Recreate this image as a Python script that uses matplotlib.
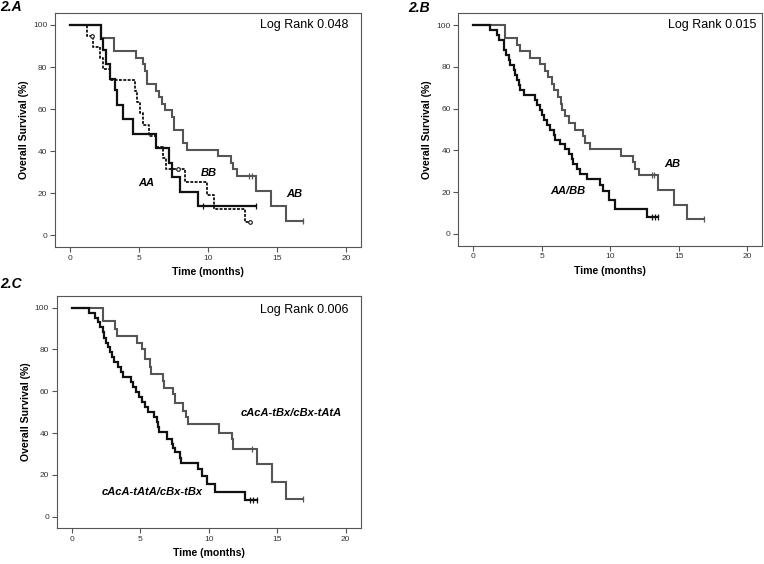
import matplotlib
matplotlib.use('Agg')
import matplotlib.pyplot as plt
import numpy as np

plt.rcParams['font.family'] = ['Liberation Sans', 'DejaVu Sans']

# ---------------- Panel 2.A ----------------
A_AB_t = [0, 2.25, 3.2, 4.8, 5.3, 5.45, 5.6, 6.25, 6.45, 6.66, 6.9, 7.4, 7.5, 7.55, 8.15, 8.5, 10.7, 11.7, 11.8, 12.1, 13.5, 14.6, 15.65]
A_AB_s = [100, 93.8, 87.5, 84.4, 81.3, 78.1, 71.9, 68.8, 65.6, 62.5, 59.4, 56.3, 53.1, 50.0, 43.8, 40.6, 37.5, 34.4, 31.3, 28.1, 21.1, 14.1, 7.0]
A_AB_end = 16.9
A_AB_cens = [13.0, 13.2, 16.9]

A_AA_t = [0, 2.25, 2.35, 2.6, 2.86, 3.22, 3.39, 3.83, 4.55, 6.25, 7.2, 7.4, 7.95, 9.3]
A_AA_s = [100, 93.1, 88.0, 81.6, 74.5, 69.0, 61.8, 55.5, 48.3, 41.4, 34.5, 27.6, 20.7, 13.8]
A_AA_end = 13.5
A_AA_cens = [9.65, 13.5]

A_BB_t = [0, 1.2, 1.65, 2.13, 2.37, 2.86, 4.68, 4.85, 5.1, 5.3, 5.75, 6.25, 6.74, 6.98, 8.3, 9.9, 10.4, 12.7]
A_BB_s = [100, 94.7, 89.5, 84.2, 78.9, 73.7, 68.4, 63.2, 57.9, 52.6, 47.4, 42.1, 36.8, 31.6, 25.3, 19.0, 12.6, 6.3]
A_BB_end = 13.05
A_BB_cens = [1.6, 7.83, 13.05]

# ---------------- Panel 2.B ----------------
B_AB_t = [0, 2.32, 3.17, 3.41, 4.15, 4.83, 5.25, 5.45, 5.73, 5.85, 6.2, 6.4, 6.5, 6.7, 7.0, 7.4, 8.0, 8.15, 8.52, 10.8, 11.65, 11.8, 12.1, 13.5, 14.65, 15.58]
B_AB_s = [100, 93.8, 90.6, 87.5, 84.4, 81.3, 78.1, 75.0, 71.9, 68.8, 65.6, 62.5, 59.4, 56.3, 53.1, 50.0, 46.9, 43.8, 40.6, 37.5, 34.4, 31.3, 28.1, 21.1, 14.1, 7.0]
B_AB_end = 16.85
B_AB_cens = [13.05, 13.15, 16.85]

B_AABB_t = [0, 1.22, 1.7, 1.85, 2.2, 2.25, 2.4, 2.56, 2.68, 2.93, 3.05, 3.17, 3.29, 3.41, 3.66, 4.51, 4.63, 4.83, 5.0, 5.12, 5.37, 5.61, 5.85, 5.98, 6.33, 6.69, 6.94, 7.2, 7.3, 7.55, 7.79, 8.28, 9.25, 9.49, 9.86, 10.34, 12.66]
B_AABB_s = [100, 97.6, 95.2, 92.9, 90.5, 88.1, 85.7, 83.3, 81.0, 78.6, 76.2, 73.8, 71.4, 69.0, 66.7, 64.3, 61.9, 59.5, 57.1, 54.8, 52.4, 50.0, 47.6, 45.2, 42.9, 40.5, 38.1, 35.7, 33.3, 31.0, 28.6, 26.4, 23.6, 20.4, 16.4, 12.0, 8.1]
B_AABB_end = 13.5
B_AABB_cens = [13.0, 13.25, 13.5]

# ---------------- Panel 2.C ----------------
C_up_t = [0, 2.25, 3.14, 3.31, 4.76, 5.14, 5.36, 5.68, 5.8, 6.64, 6.76, 7.37, 7.54, 8.09, 8.33, 8.5, 10.78, 11.68, 11.8, 13.5, 14.6, 15.64]
C_up_s = [100, 93.6, 90.0, 86.4, 83.3, 80.0, 75.5, 71.5, 68.0, 65.0, 61.5, 58.5, 54.5, 50.5, 47.5, 44.2, 39.9, 37.0, 32.5, 25.0, 16.7, 8.3]
C_up_end = 16.86
C_up_cens = [13.14, 16.86]

C_low_t = [0, 1.28, 1.7, 1.9, 2.05, 2.25, 2.35, 2.5, 2.65, 2.8, 2.95, 3.1, 3.35, 3.6, 3.75, 4.35, 4.5, 4.7, 4.9, 5.1, 5.35, 5.6, 6.0, 6.2, 6.3, 6.4, 6.93, 7.3, 7.42, 7.55, 7.9, 8.0, 9.24, 9.48, 9.85, 10.46, 12.65]
C_low_s = [100, 97.6, 95.2, 92.9, 90.5, 88.1, 85.7, 83.3, 81.0, 78.6, 76.2, 73.8, 71.4, 69.0, 66.7, 64.3, 61.9, 59.5, 57.1, 54.8, 52.4, 50.0, 47.6, 45.2, 42.9, 40.5, 37.0, 34.8, 33.0, 30.8, 28.2, 25.8, 22.6, 19.4, 15.5, 11.8, 7.8]
C_low_end = 13.5
C_low_cens = [13.0, 13.25, 13.5]

x_ticks = [0, 5, 10, 15, 20]
y_ticks = [0, 20, 40, 60, 80, 100]

GRAY = '#555555'
BLACK = '#111111'


def surv_at(t, s, x):
    idx = np.searchsorted(np.asarray(t), x, side='right') - 1
    return np.asarray(s)[idx]


def km(ax, t, s, end, cens, color, lw, ls='-', dashed=False):
    tt = list(t) + [end]
    ss = list(s) + [s[-1]]
    ax.step(tt, ss, where='post', color=color, lw=lw, ls=ls, solid_joinstyle='miter')
    cy = [surv_at(t, s, c) for c in cens]
    if dashed:
        ax.plot(cens, cy, ls='none', marker='o', ms=2.6, mfc='white', mec=color, mew=0.8)
    else:
        ax.plot(cens, cy, ls='none', marker='|', ms=4, mec=color, mew=0.9)


def style(ax):
    ax.set_xlim(-1.1, 21.1)
    ax.set_ylim(-5.6, 105.7)
    ax.set_xticks(x_ticks)
    ax.set_yticks(y_ticks)
    for sp in ax.spines.values():
        sp.set_color('#555555')
        sp.set_linewidth(0.8)
    ax.tick_params(direction='out', length=3.5, width=0.8, color='#555555',
                   labelsize=6, labelcolor='#333333', pad=2)
    ax.set_xlabel('Time (months)', fontsize=7.6, fontweight='bold', labelpad=4)
    ax.set_ylabel('Overall Survival (%)', fontsize=7.6, fontweight='bold', labelpad=3)


fig = plt.figure(figsize=(7.64, 5.64), dpi=100)
axA = fig.add_axes([0.072, 0.562, 0.4005, 0.415])
axB = fig.add_axes([0.600, 0.5644, 0.398, 0.412])
axC = fig.add_axes([0.0742, 0.0633, 0.398, 0.4124])

# Panel A
km(axA, A_AB_t, A_AB_s, A_AB_end, A_AB_cens, GRAY, 1.5)
km(axA, A_BB_t, A_BB_s, A_BB_end, A_BB_cens, BLACK, 1.3, ls=(0, (1.6, 0.8)), dashed=True)
km(axA, A_AA_t, A_AA_s, A_AA_end, A_AA_cens, BLACK, 1.6)
style(axA)
lab = dict(fontsize=8, fontweight='bold', fontstyle='italic', ha='center', va='center')
axA.text(5.53, 24.9, 'AA', **lab)
axA.text(10.08, 29.6, 'BB', **lab)
axA.text(16.25, 19.8, 'AB', **lab)
axA.text(20.19, 99.9, 'Log Rank 0.048', fontsize=9, ha='right', va='center')

# Panel B
km(axB, B_AB_t, B_AB_s, B_AB_end, B_AB_cens, GRAY, 1.5)
km(axB, B_AABB_t, B_AABB_s, B_AABB_end, B_AABB_cens, BLACK, 1.6)
style(axB)
axB.text(14.48, 33.4, 'AB', **lab)
axB.text(6.88, 20.7, 'AA/BB', **lab)
axB.text(20.69, 100.0, 'Log Rank 0.015', fontsize=9, ha='right', va='center')

# Panel C
km(axC, C_up_t, C_up_s, C_up_end, C_up_cens, GRAY, 1.5)
km(axC, C_low_t, C_low_s, C_low_end, C_low_cens, BLACK, 1.6)
style(axC)
axC.text(16.03, 49.4, 'cAcA-tBx/cBx-tAtA', **lab)
axC.text(5.84, 11.8, 'cAcA-tAtA/cBx-tBx', **lab)
axC.text(20.24, 98.9, 'Log Rank 0.006', fontsize=9, ha='right', va='center')

# Panel titles
tt = dict(fontsize=10, fontweight='bold', fontstyle='italic', va='center', ha='left')
fig.text(0.0, 1 - 7 / 564, '2.A', **tt)
fig.text(408 / 764, 1 - 8 / 564, '2.B', **tt)
fig.text(0.0, 1 - 284 / 564, '2.C', **tt)

fig.savefig('out.png', dpi=100)
